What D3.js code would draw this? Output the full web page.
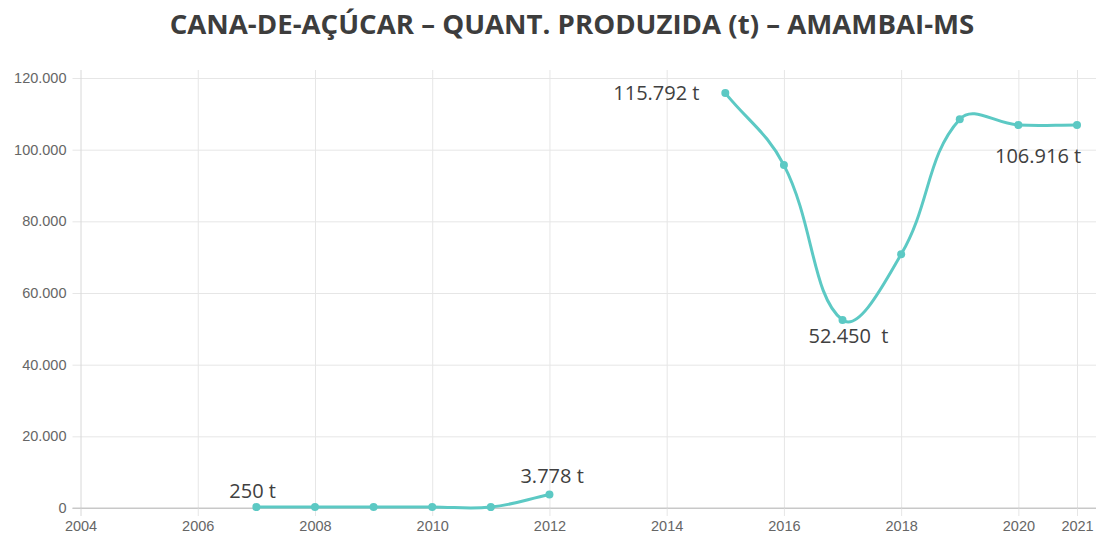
<!DOCTYPE html>
<html>
<head>
<meta charset="utf-8">
<script src="https://cdn.jsdelivr.net/npm/d3@7"></script>
<style>
  body { margin: 0; background: #fff; }
  svg { display: block; }
</style>
</head>
<body>
<div id="chart"></div>
<script>
// chart data
var titleText = "CANA-DE-AÇÚCAR – QUANT. PRODUZIDA (t) – AMAMBAI-MS";
var years  = [2007, 2008, 2009, 2010, 2011, 2012, 2013, 2014, 2015, 2016, 2017, 2018, 2019, 2020, 2021];
var values = [250, 300, 300, 300, 250, 3778, null, null, 115792, 95700, 52450, 70800, 108500, 106900, 106916];
var xTicks = [2004, 2006, 2008, 2010, 2012, 2014, 2016, 2018, 2020, 2021];
var yTicks = [0, 20000, 40000, 60000, 80000, 100000, 120000];
var labelYears = [2007, 2012, 2015, 2017, 2021];
var labelTexts = ["250 t", "3.778 t", "115.792 t", "52.450  t", "106.916 t"];
// label offsets from their point (dx, dy to baseline)
var labelOffsets = [[-27, -9], [-29, -11], [-112, 7], [-34, 23], [-82, 38]];

var W = 1096, H = 535;
var margin = {top: 78, right: 0, bottom: 27, left: 80.5};
var teal = "rgb(92,201,196)";

var svg = d3.select("#chart").append("svg")
    .attr("width", W)
    .attr("height", H);

// scales
var x = d3.scaleLinear().domain([2004, 2021]).range([margin.left, 1077]);
var y = d3.scaleLinear().domain([0, 120000]).range([H - margin.bottom - 0, margin.top]);

var ptBr = d3.formatLocale({decimal: ",", thousands: ".", grouping: [3], currency: ["R$", ""]});
var fmt = ptBr.format(",d");

// title
var title = svg.append("text")
    .attr("x", 572)
    .attr("y", 34)
    .attr("text-anchor", "middle")
    .style("font-family", "'Open Sans', sans-serif")
    .style("font-weight", "bold")
    .style("font-size", "24px")
    .style("fill", "#3d3d3d")
    .text(titleText);
// fit the title to the reference width
var tw = title.node().getComputedTextLength();
title.style("font-size", (24 * 805 / tw) + "px");

// y grid + axis
var yAxis = svg.append("g")
    .attr("transform", "translate(" + margin.left + ",0)")
    .call(d3.axisLeft(y).tickValues(yTicks).tickFormat(fmt)
      .tickSize(-(W - margin.left)).tickPadding(14));
yAxis.select(".domain").remove();
yAxis.selectAll(".tick line")
    .attr("x1", -8)
    .attr("stroke", function(d) { return d === 0 ? "#c8c8c8" : "#e6e6e6"; });
yAxis.selectAll(".tick text")
    .style("font-family", "'Liberation Sans', Arial, sans-serif")
    .style("font-size", "14.5px")
    .style("fill", "#666");

// x grid + axis
var xAxis = svg.append("g")
    .attr("transform", "translate(0," + y(0) + ")")
    .call(d3.axisBottom(x).tickValues(xTicks).tickFormat(d3.format("d"))
      .tickSize(8).tickPadding(5));
xAxis.select(".domain").remove();
xAxis.selectAll(".tick line")
    .attr("y1", y(120000) - 8 - y(0))
    .attr("stroke", function(d) { return d === 2004 ? "#d8d8d8" : "#e6e6e6"; });
xAxis.selectAll(".tick text")
    .style("font-family", "'Liberation Sans', Arial, sans-serif")
    .style("font-size", "14.5px")
    .style("fill", "#666");

// redraw zero line on top of vertical grid
svg.append("line")
    .attr("x1", margin.left - 8).attr("x2", W)
    .attr("y1", y(0)).attr("y2", y(0))
    .attr("stroke", "#c8c8c8");

// spline like Chart.js (tension 0.4)
function chartSpline(tension) {
  return function(context) {
    var pts;
    return {
      areaStart: function() {}, areaEnd: function() {},
      lineStart: function() { pts = []; },
      point: function(px, py) { pts.push([+px, +py]); },
      lineEnd: function() {
        var n = pts.length;
        if (!n) return;
        var cps = pts.map(function(p, i) {
          var a = pts[i - 1] || p, c = pts[i + 1] || p;
          var d01 = Math.hypot(p[0] - a[0], p[1] - a[1]);
          var d12 = Math.hypot(c[0] - p[0], c[1] - p[1]);
          var s01 = d01 / (d01 + d12), s12 = d12 / (d01 + d12);
          if (isNaN(s01)) s01 = 0;
          if (isNaN(s12)) s12 = 0;
          var fa = tension * s01, fb = tension * s12;
          return {
            prev: [p[0] - fa * (c[0] - a[0]), p[1] - fa * (c[1] - a[1])],
            next: [p[0] + fb * (c[0] - a[0]), p[1] + fb * (c[1] - a[1])]
          };
        });
        context.moveTo(pts[0][0], pts[0][1]);
        for (var i = 1; i < n; i++) {
          context.bezierCurveTo(cps[i - 1].next[0], cps[i - 1].next[1],
                                cps[i].prev[0], cps[i].prev[1],
                                pts[i][0], pts[i][1]);
        }
      }
    };
  };
}

var data = years.map(function(yr, i) { return {year: yr, value: values[i]}; });

var line = d3.line()
    .defined(function(d) { return d.value != null; })
    .x(function(d) { return x(d.year); })
    .y(function(d) { return y(d.value); })
    .curve(chartSpline(0.4));

svg.append("path")
    .datum(data)
    .attr("fill", "none")
    .attr("stroke", teal)
    .attr("stroke-width", 3)
    .attr("d", line);

svg.selectAll(".dot")
    .data(data.filter(function(d) { return d.value != null; }))
  .enter().append("circle")
    .attr("class", "dot")
    .attr("cx", function(d) { return x(d.year); })
    .attr("cy", function(d) { return y(d.value); })
    .attr("r", 4)
    .attr("fill", teal);

// value labels
svg.selectAll(".lbl")
    .data(labelYears)
  .enter().append("text")
    .attr("class", "lbl")
    .attr("x", function(d, i) { return x(d) + labelOffsets[i][0]; })
    .attr("y", function(d, i) { return y(values[years.indexOf(d)]) + labelOffsets[i][1]; })
    .style("font-family", "'Open Sans', sans-serif")
    .style("font-size", "20px")
    .style("fill", "#404040")
    .style("white-space", "pre")
    .text(function(d, i) { return labelTexts[i]; });
</script>
</body>
</html>
